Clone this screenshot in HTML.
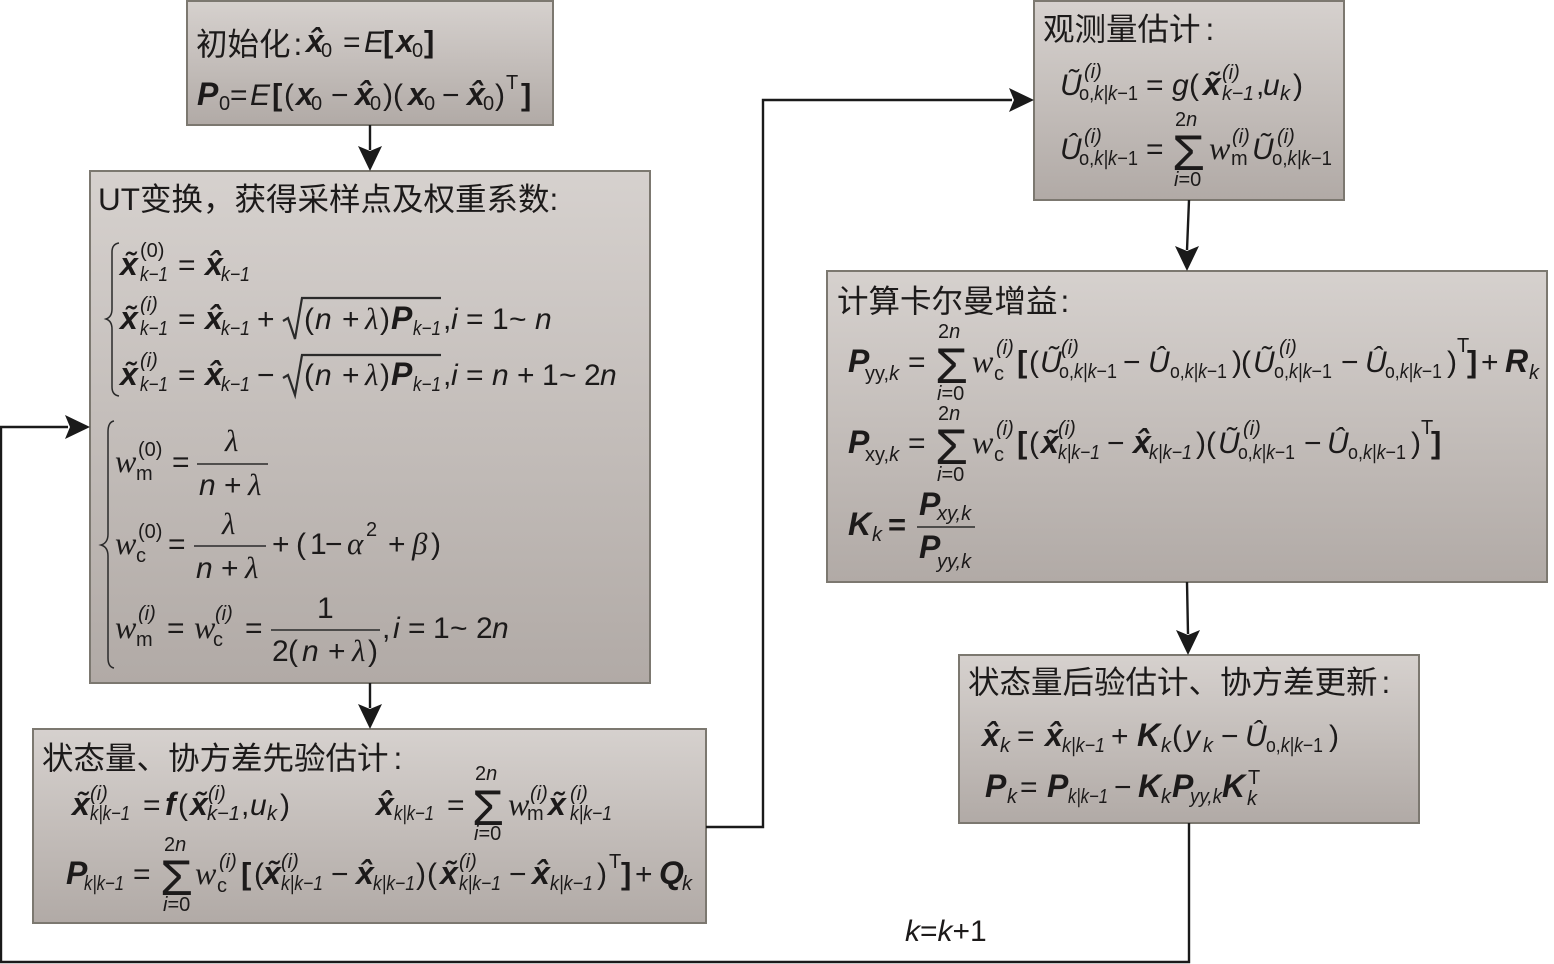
<!DOCTYPE html>
<html><head><meta charset="utf-8"><style>
html,body{margin:0;padding:0;background:#fff}
svg{display:block}
text{font-family:"Liberation Sans","Noto Sans CJK SC",sans-serif;fill:#1c1a1a;font-size:30px}
.t{font-size:31.5px;font-family:"Liberation Sans","Noto Sans CJK SC",sans-serif}
.b{font-weight:bold;font-style:italic;font-size:32px}
.bk{font-weight:bold;font-size:31px}
.i{font-style:italic}
.s{font-size:20px}
.u{font-size:20px;font-style:italic}
.w{font-family:"Liberation Serif",serif;font-style:italic;font-size:32px}
.l{font-family:"Liberation Serif",serif;font-style:italic;font-size:31px}
.g{font-size:50px}
tspan.k{font-style:italic}
text.s[style="font-style:italic"]{transform:translateY(-2px)}
</style></head><body>
<svg width="1554" height="964" viewBox="0 0 1554 964" xmlns="http://www.w3.org/2000/svg">
<defs><linearGradient id="f" x1="0" y1="0" x2="0" y2="1"><stop offset="0" stop-color="#d6d1ce"/><stop offset="1" stop-color="#b1aaa6"/></linearGradient></defs>
<g fill="url(#f)" stroke="#7c7870" stroke-width="2">
<rect x="187" y="1" width="366" height="124"/>
<rect x="90" y="171" width="560" height="512"/>
<rect x="33" y="729" width="673" height="194"/>
<rect x="1034" y="1" width="310" height="199"/>
<rect x="827" y="271" width="720" height="311"/>
<rect x="959" y="655" width="460" height="168"/>
</g>
<g fill="none" stroke="#1a1a1a" stroke-width="2.4">
<path d="M370 125V150M370 683V708M706 827H763V100H1012M1189 200L1187 250M1187 582L1188 634M1189 823V962H1V427H68"/>
</g>
<g fill="#1a1a1a">
<path d="M370 171L358 146L370 151L382 146Z"/>
<path d="M370 729L358 704L370 709L382 704Z"/>
<path d="M1034 100L1009 88L1014 100L1009 112Z"/>
<path d="M1187 271L1175 246L1187 251L1199 246Z"/>
<path d="M1188 655L1176 630L1188 635L1200 630Z"/>
<path d="M90 427L65 415L70 427L65 439Z"/>
</g>
<g fill="none" stroke="#2a2a2a" stroke-width="1.5">
<path d="M119 243Q112 244 112 252V309Q112 317 106 319Q112 321 112 329V387Q112 395 119 396"/>
<path d="M114 421Q108 422 108 432V534Q108 543 101 545Q108 547 108 556V658Q108 667 114 668"/>
<path d="M283 321L288 318L295 339L302 298H441" stroke-width="2.2"/>
<path d="M283 378L288 375L295 395L302 355H441" stroke-width="2.2"/>
<path d="M197 464H268M194 546H266M271 630H380M917 527H975" stroke-width="1.6"/>
</g>

<!-- box 1 -->
<text class="t" x="196" y="55">初始化<tspan dx="3">:</tspan></text>
<text class="b" x="306" y="52">x̂</text><text class="s" x="321" y="57">0</text><text x="343" y="52">=</text><text class="i" x="364" y="52">E</text><text class="bk" x="383" y="52">[</text><text class="b" x="396" y="52">x</text><text class="s" x="412" y="57">0</text><text class="bk" x="424" y="52">]</text>
<text class="b" x="197" y="105">P</text><text class="s" x="219" y="110">0</text><text x="230" y="105">=</text><text class="i" x="250" y="105">E</text><text class="bk" x="272" y="105">[</text><text x="284" y="105">(</text><text class="b" x="296" y="105">x</text><text class="s" x="311" y="110">0</text><text x="331" y="105">−</text><text class="b" x="355" y="105">x̂</text><text class="s" x="370" y="110">0</text><text x="383" y="105">)(</text><text class="b" x="408" y="105">x</text><text class="s" x="424" y="110">0</text><text x="442" y="105">−</text><text class="b" x="467" y="105">x̂</text><text class="s" x="483" y="110">0</text><text x="495" y="105">)</text><text class="s" x="506" y="89">T</text><text class="bk" x="521" y="105">]</text>

<!-- box 2 -->
<text class="t" x="98" y="210">UT变换，获得采样点及权重系数:</text>
<text class="b" x="120" y="275">x̃</text><text class="s" x="140" y="257">(0)</text><text class="u" x="140" y="281" textLength="28" lengthAdjust="spacingAndGlyphs">k−1</text><text x="178" y="275">=</text><text class="b" x="205" y="275">x̂</text><text class="u" x="221" y="281" textLength="29" lengthAdjust="spacingAndGlyphs">k−1</text>
<text class="b" x="120" y="329">x̃</text><text class="s" x="140" y="313" style="font-style:italic">(i)</text><text class="u" x="140" y="335" textLength="28" lengthAdjust="spacingAndGlyphs">k−1</text><text x="178" y="329">=</text><text class="b" x="205" y="329">x̂</text><text class="u" x="221" y="335" textLength="29" lengthAdjust="spacingAndGlyphs">k−1</text><text x="257" y="329">+</text><text x="304" y="329">(</text><text class="i" x="315" y="329">n</text><text x="342" y="329">+</text><text class="l" x="365" y="329">λ</text><text x="380" y="329">)</text><text class="b" x="391" y="329">P</text><text class="u" x="413" y="335" textLength="28" lengthAdjust="spacingAndGlyphs">k−1</text><text x="443" y="329">,</text><text class="i" x="451" y="329">i</text><text x="466" y="329">=</text><text x="492" y="329">1</text><text x="509" y="329">~</text><text class="i" x="535" y="329">n</text>
<text class="b" x="120" y="385">x̃</text><text class="s" x="140" y="369" style="font-style:italic">(i)</text><text class="u" x="140" y="391" textLength="28" lengthAdjust="spacingAndGlyphs">k−1</text><text x="178" y="385">=</text><text class="b" x="205" y="385">x̂</text><text class="u" x="221" y="391" textLength="29" lengthAdjust="spacingAndGlyphs">k−1</text><text x="257" y="385">−</text><text x="304" y="385">(</text><text class="i" x="315" y="385">n</text><text x="342" y="385">+</text><text class="l" x="365" y="385">λ</text><text x="380" y="385">)</text><text class="b" x="391" y="385">P</text><text class="u" x="413" y="391" textLength="28" lengthAdjust="spacingAndGlyphs">k−1</text><text x="443" y="385">,</text><text class="i" x="451" y="385">i</text><text x="466" y="385">=</text><text x="492" y="385" class="i">n</text><text x="517" y="385">+</text><text x="542" y="385">1</text><text x="559" y="385">~</text><text x="584" y="385">2</text><text class="i" x="600" y="385">n</text>

<text class="w" x="115" y="472">w</text><text class="s" x="138" y="456">(0)</text><text class="s" x="136" y="480">m</text><text x="172" y="472">=</text><text class="l" x="225" y="451">λ</text><text class="i" x="199" y="495">n</text><text x="224" y="495">+</text><text class="l" x="248" y="495">λ</text>
<text class="w" x="115" y="554">w</text><text class="s" x="138" y="538">(0)</text><text class="s" x="136" y="562">c</text><text x="168" y="554">=</text><text class="l" x="222" y="534">λ</text><text class="i" x="196" y="578">n</text><text x="221" y="578">+</text><text class="l" x="245" y="578">λ</text><text x="272" y="554">+</text><text x="296" y="554">(</text><text x="310" y="554">1</text><text x="325" y="554">−</text><text class="l" x="347" y="554">α</text><text class="s" x="366" y="536">2</text><text x="388" y="554">+</text><text class="l" x="412" y="554">β</text><text x="431" y="554">)</text>
<text class="w" x="115" y="638">w</text><text class="s" x="138" y="622" style="font-style:italic">(i)</text><text class="s" x="136" y="646">m</text><text x="167" y="638">=</text><text class="w" x="194" y="638">w</text><text class="s" x="215" y="622" style="font-style:italic">(i)</text><text class="s" x="213" y="646">c</text><text x="245" y="638">=</text><text x="317" y="618">1</text><text x="272" y="661">2</text><text x="288" y="661">(</text><text class="i" x="302" y="661">n</text><text x="328" y="661">+</text><text class="l" x="352" y="661">λ</text><text x="368" y="661">)</text><text x="382" y="638">,</text><text class="i" x="393" y="638">i</text><text x="408" y="638">=</text><text x="433" y="638">1</text><text x="450" y="638">~</text><text x="476" y="638">2</text><text class="i" x="492" y="638">n</text>

<!-- box 3 -->
<text class="t" x="42" y="769">状态量、协方差先验估计<tspan dx="5">:</tspan></text>
<text class="b" x="72" y="815">x̃</text><text class="s" x="90" y="802" style="font-style:italic">(i)</text><text class="u" x="90" y="820" textLength="40" lengthAdjust="spacingAndGlyphs">k|k−1</text><text x="143" y="815">=</text><text class="b" x="165" y="815">f</text><text x="178" y="815">(</text><text class="b" x="190" y="815">x̃</text><text class="s" x="208" y="802" style="font-style:italic">(i)</text><text class="u" x="207" y="820" textLength="33" lengthAdjust="spacingAndGlyphs">k−1</text><text x="241" y="815">,</text><text class="i" x="250" y="815">u</text><text class="u" x="267" y="820">k</text><text x="280" y="815">)</text>
<text class="b" x="376" y="815">x̂</text><text class="u" x="394" y="820" textLength="40" lengthAdjust="spacingAndGlyphs">k|k−1</text><text x="447" y="815">=</text><text class="s" x="475" y="780">2<tspan class="k">n</tspan></text><text class="g" x="472" y="825" textLength="32" lengthAdjust="spacingAndGlyphs">Σ</text><text class="s" x="474" y="840"><tspan class="k">i</tspan>=0</text><text class="w" x="508" y="815">w</text><text class="s" x="530" y="802" style="font-style:italic">(i)</text><text class="s" x="527" y="820">m</text><text class="b" x="548" y="815">x̃</text><text class="s" x="570" y="802" style="font-style:italic">(i)</text><text class="u" x="570" y="820" textLength="42" lengthAdjust="spacingAndGlyphs">k|k−1</text>
<text class="b" x="66" y="884">P</text><text class="u" x="84" y="890" textLength="40" lengthAdjust="spacingAndGlyphs">k|k−1</text><text x="133" y="884">=</text><text class="s" x="164" y="851">2<tspan class="k">n</tspan></text><text class="g" x="160" y="895" textLength="33" lengthAdjust="spacingAndGlyphs">Σ</text><text class="s" x="163" y="911"><tspan class="k">i</tspan>=0</text><text class="w" x="195" y="884">w</text><text class="s" x="219" y="870" style="font-style:italic">(i)</text><text class="s" x="217" y="892">c</text><text class="bk" x="241" y="884">[</text><text x="254" y="884">(</text><text class="b" x="263" y="884">x̃</text><text class="s" x="281" y="870" style="font-style:italic">(i)</text><text class="u" x="281" y="890" textLength="42" lengthAdjust="spacingAndGlyphs">k|k−1</text><text x="331" y="884">−</text><text class="b" x="356" y="884">x̂</text><text class="u" x="373" y="890" textLength="42" lengthAdjust="spacingAndGlyphs">k|k−1</text><text x="416" y="884">)</text><text x="427" y="884">(</text><text class="b" x="440" y="884">x̃</text><text class="s" x="459" y="870" style="font-style:italic">(i)</text><text class="u" x="459" y="890" textLength="42" lengthAdjust="spacingAndGlyphs">k|k−1</text><text x="509" y="884">−</text><text class="b" x="532" y="884">x̂</text><text class="u" x="550" y="890" textLength="43" lengthAdjust="spacingAndGlyphs">k|k−1</text><text x="597" y="884">)</text><text class="s" x="609" y="868">T</text><text class="bk" x="621" y="884">]</text><text x="635" y="884">+</text><text class="b" x="659" y="884">Q</text><text class="u" x="682" y="890">k</text>

<!-- box 4 -->
<text class="t" x="1043" y="40">观测量估计<tspan dx="5">:</tspan></text>
<text class="i" x="1060" y="95">Ũ</text><text class="s" x="1084" y="80" style="font-style:italic">(i)</text><text class="s" x="1079" y="100" textLength="59" lengthAdjust="spacingAndGlyphs">o,<tspan class="k">k|k</tspan>−1</text><text x="1146" y="95">=</text><text class="i" x="1172" y="95">g</text><text x="1189" y="95">(</text><text class="b" x="1203" y="95">x̃</text><text class="s" x="1222" y="81" style="font-style:italic">(i)</text><text class="u" x="1222" y="100" textLength="32" lengthAdjust="spacingAndGlyphs">k−1</text><text x="1256" y="95">,</text><text class="i" x="1263" y="95">u</text><text class="u" x="1280" y="100">k</text><text x="1293" y="95">)</text>
<text class="i" x="1060" y="159">Û</text><text class="s" x="1084" y="145" style="font-style:italic">(i)</text><text class="s" x="1079" y="165" textLength="59" lengthAdjust="spacingAndGlyphs">o,<tspan class="k">k|k</tspan>−1</text><text x="1146" y="159">=</text><text class="s" x="1175" y="126">2<tspan class="k">n</tspan></text><text class="g" x="1172" y="170" textLength="33" lengthAdjust="spacingAndGlyphs">Σ</text><text class="s" x="1174" y="186"><tspan class="k">i</tspan>=0</text><text class="w" x="1209" y="159">w</text><text class="s" x="1232" y="145" style="font-style:italic">(i)</text><text class="s" x="1231" y="165">m</text><text class="i" x="1252" y="159">Ũ</text><text class="s" x="1277" y="145" style="font-style:italic">(i)</text><text class="s" x="1272" y="165" textLength="60" lengthAdjust="spacingAndGlyphs">o,<tspan class="k">k|k</tspan>−1</text>

<!-- box 5 -->
<text class="t" x="837" y="312">计算卡尔曼增益<tspan dx="3">:</tspan></text>
<text class="b" x="848" y="372">P</text><text class="s" x="865" y="380">yy,<tspan class="k">k</tspan></text><text x="908" y="372">=</text><text class="s" x="938" y="338">2<tspan class="k">n</tspan></text><text class="g" x="935" y="383" textLength="33" lengthAdjust="spacingAndGlyphs">Σ</text><text class="s" x="937" y="400"><tspan class="k">i</tspan>=0</text><text class="w" x="972" y="372">w</text><text class="s" x="996" y="356" style="font-style:italic">(i)</text><text class="s" x="994" y="380">c</text><text class="bk" x="1017" y="372">[</text><text x="1029" y="372">(</text><text class="i" x="1040" y="372">Ũ</text><text class="s" x="1061" y="356" style="font-style:italic">(i)</text><text class="s" x="1059" y="378" textLength="58" lengthAdjust="spacingAndGlyphs">o,<tspan class="k">k|k</tspan>−1</text><text x="1123" y="372">−</text><text class="i" x="1148" y="372">Û</text><text class="s" x="1170" y="378" textLength="57" lengthAdjust="spacingAndGlyphs">o,<tspan class="k">k|k</tspan>−1</text><text x="1232" y="372">)</text><text x="1241" y="372">(</text><text class="i" x="1253" y="372">Ũ</text><text class="s" x="1279" y="356" style="font-style:italic">(i)</text><text class="s" x="1274" y="378" textLength="58" lengthAdjust="spacingAndGlyphs">o,<tspan class="k">k|k</tspan>−1</text><text x="1341" y="372">−</text><text class="i" x="1365" y="372">Û</text><text class="s" x="1385" y="378" textLength="57" lengthAdjust="spacingAndGlyphs">o,<tspan class="k">k|k</tspan>−1</text><text x="1447" y="372">)</text><text class="s" x="1457" y="352">T</text><text class="bk" x="1467" y="372">]</text><text x="1481" y="372">+</text><text class="b" x="1505" y="372">R</text><text class="u" x="1529" y="379">k</text>
<text class="b" x="848" y="453">P</text><text class="s" x="865" y="461">xy,<tspan class="k">k</tspan></text><text x="908" y="453">=</text><text class="s" x="938" y="420">2<tspan class="k">n</tspan></text><text class="g" x="935" y="464" textLength="33" lengthAdjust="spacingAndGlyphs">Σ</text><text class="s" x="937" y="481"><tspan class="k">i</tspan>=0</text><text class="w" x="972" y="453">w</text><text class="s" x="996" y="437" style="font-style:italic">(i)</text><text class="s" x="994" y="461">c</text><text class="bk" x="1017" y="453">[</text><text x="1029" y="453">(</text><text class="b" x="1041" y="453">x̃</text><text class="s" x="1058" y="437" style="font-style:italic">(i)</text><text class="u" x="1058" y="459" textLength="42" lengthAdjust="spacingAndGlyphs">k|k−1</text><text x="1107" y="453">−</text><text class="b" x="1133" y="453">x̂</text><text class="u" x="1149" y="459" textLength="43" lengthAdjust="spacingAndGlyphs">k|k−1</text><text x="1196" y="453">)</text><text x="1206" y="453">(</text><text class="i" x="1218" y="453">Ũ</text><text class="s" x="1243" y="437" style="font-style:italic">(i)</text><text class="s" x="1238" y="459" textLength="57" lengthAdjust="spacingAndGlyphs">o,<tspan class="k">k|k</tspan>−1</text><text x="1304" y="453">−</text><text class="i" x="1327" y="453">Û</text><text class="s" x="1348" y="459" textLength="58" lengthAdjust="spacingAndGlyphs">o,<tspan class="k">k|k</tspan>−1</text><text x="1411" y="453">)</text><text class="s" x="1421" y="434">T</text><text class="bk" x="1431" y="453">]</text>
<text class="b" x="848" y="535">K</text><text class="u" x="872" y="541">k</text><text class="bk" x="888" y="535">=</text><text class="b" x="919" y="515">P</text><text class="s" x="937" y="522" style="font-style:italic">xy,k</text><text class="b" x="919" y="558">P</text><text class="s" x="937" y="570" style="font-style:italic">yy,k</text>

<!-- box 6 -->
<text class="t" x="968" y="693">状态量后验估计、协方差更新<tspan dx="4">:</tspan></text>
<text class="b" x="982" y="746">x̂</text><text class="u" x="1000" y="752">k</text><text x="1017" y="746">=</text><text class="b" x="1045" y="746">x̂</text><text class="u" x="1062" y="752" textLength="43" lengthAdjust="spacingAndGlyphs">k|k−1</text><text x="1111" y="746">+</text><text class="b" x="1137" y="746">K</text><text class="u" x="1161" y="752">k</text><text x="1172" y="746">(</text><text class="i" x="1185" y="746">y</text><text class="u" x="1203" y="752">k</text><text x="1221" y="746">−</text><text class="i" x="1245" y="746">Û</text><text class="s" x="1266" y="752" textLength="57" lengthAdjust="spacingAndGlyphs">o,<tspan class="k">k|k</tspan>−1</text><text x="1329" y="746">)</text>
<text class="b" x="985" y="797">P</text><text class="u" x="1007" y="803">k</text><text x="1020" y="797">=</text><text class="b" x="1047" y="797">P</text><text class="u" x="1068" y="803" textLength="40" lengthAdjust="spacingAndGlyphs">k|k−1</text><text x="1114" y="797">−</text><text class="b" x="1138" y="797">K</text><text class="u" x="1161" y="803">k</text><text class="b" x="1172" y="797">P</text><text class="s" x="1190" y="805" style="font-style:italic" textLength="32" lengthAdjust="spacingAndGlyphs">yy,k</text><text class="b" x="1222" y="797">K</text><text class="u" x="1247" y="805">k</text><text class="s" x="1248" y="784">T</text>

<text x="905" y="941" style="font-size:30px"><tspan class="k">k</tspan>=<tspan class="k">k</tspan>+1</text>
</svg>
</body></html>
